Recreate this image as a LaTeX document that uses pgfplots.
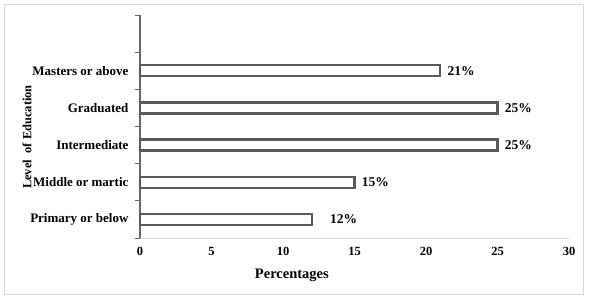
\documentclass[border=0pt]{standalone}
\usepackage{fontspec}
\setmainfont{Liberation Serif}
\usepackage{pgfplots}
\pgfplotsset{compat=1.18}
\definecolor{barline}{HTML}{5A5A5A}
\definecolor{axline}{HTML}{666666}
\definecolor{frame}{HTML}{D9D9D9}
\begin{document}
\begin{tikzpicture}[x=1pt,y=1pt]
\path[use as bounding box] (0,0) rectangle (589,-301);
\draw[frame, line width=0.8pt] (4,-4) rectangle (583,-294);
\begin{axis}[
  at={(140pt,-238pt)}, anchor=south west,
  scale only axis, width=429pt, height=223pt,
  xmin=0, xmax=30, ymin=-0.5, ymax=5.5,
  xbar, bar width=11pt, bar shift=0pt,
  axis x line*=bottom, axis y line*=left,
  axis line style={-},
  x axis line style={draw=frame, line width=0.8pt},
  y axis line style={draw=axline, line width=1.3pt},
  xtick={0,5,...,30},
  ytick={0,1,2,3,4},
  yticklabels={Primary or below, Middle or martic, Intermediate, Graduated, Masters or above},
  minor ytick={-0.5,0.5,...,5.5},
  major tick length=0pt, minor tick length=5pt, tick align=outside,
  every minor tick/.append style={draw=axline, line width=1pt},
  /pgf/number format/assume math mode=true,
  xticklabel style={font=\bfseries\fontsize{12.5}{13}\selectfont, yshift=-6pt},
  yticklabel style={font=\bfseries\fontsize{13}{13}\selectfont, xshift=-8pt},
  xlabel={Percentages},
  xlabel style={font=\bfseries\fontsize{14.5}{15}\selectfont, at={(rel axis cs:0.354,-0.166)}, anchor=center},
  ylabel={Level\ \ of Education},
  ylabel style={font=\bfseries\fontsize{12.5}{13}\selectfont, at={(rel axis cs:-0.263,0.453)}, anchor=center},
  point meta=x,
  nodes near coords={\pgfmathprintnumber{\pgfplotspointmeta}\%},
  nodes near coords style={font=\bfseries\fontsize{13.5}{14}\selectfont, anchor=west},
  clip=false,
]
\addplot[draw=barline, fill=white, line width=2.2pt, nodes near coords style={xshift=3pt}]
  coordinates {(15,1) (25,2) (25,3) (21,4)};
\addplot[draw=barline, fill=white, line width=2.2pt, nodes near coords style={xshift=14pt}]
  coordinates {(12,0)};
\end{axis}
\end{tikzpicture}
\end{document}
